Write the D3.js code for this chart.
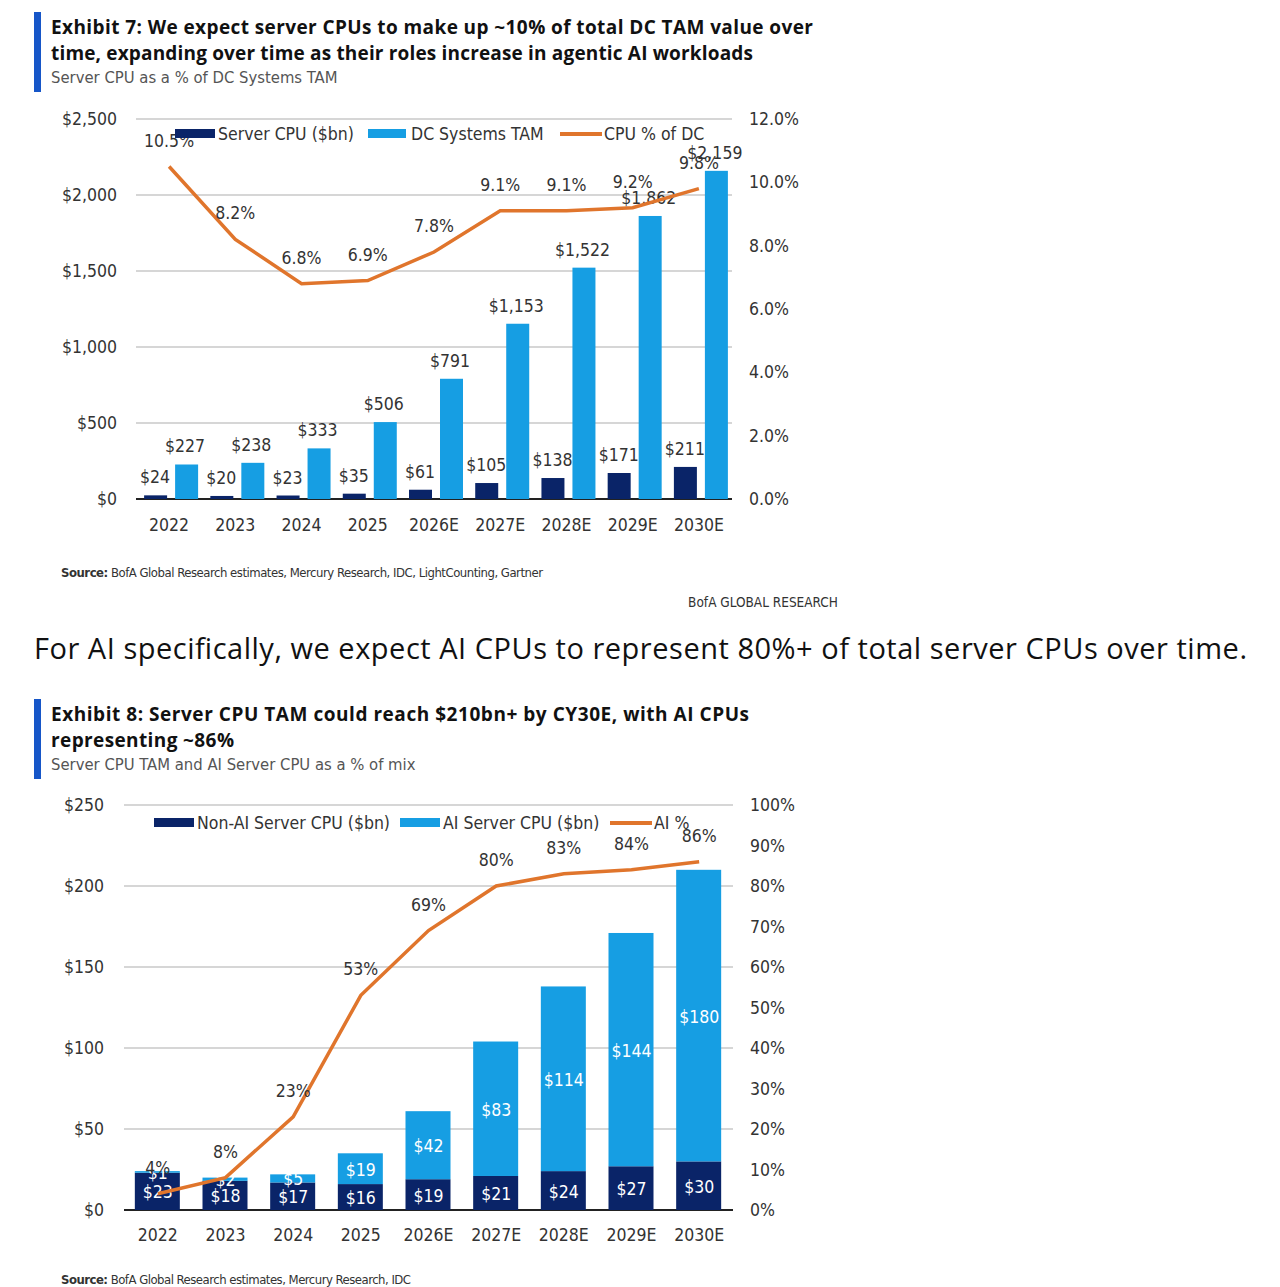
<!DOCTYPE html><html><head><meta charset="utf-8">
<script src="https://cdn.jsdelivr.net/npm/d3@7"></script>
<style>body{margin:0;background:#fff}svg{display:block}</style></head><body>
<script>
const years=["2022","2023","2024","2025","2026E","2027E","2028E","2029E","2030E"];
const serverCPU=[24,20,23,35,61,105,138,171,211];
const dcTAM=[227,238,333,506,791,1153,1522,1862,2159];
const cpuPct=[10.5,8.2,6.8,6.9,7.8,9.1,9.1,9.2,9.8];
const nonAI=[23,18,17,16,19,21,24,27,30];
const aiCPU=[1,2,5,19,42,83,114,144,180];
const aiPct=[4,8,23,53,69,80,83,84,86];
const leftTicks1=[0,500,1000,1500,2000,2500];
const rightTicks1=[0,2,4,6,8,10,12];
const leftTicks2=[0,50,100,150,200,250];
const rightTicks2=[0,10,20,30,40,50,60,70,80,90,100];

const DARK="#0a2468",LIGHT="#169ee3",ORANGE="#e0752c",GRID="#c8c8c8",TXT="#333";
const NF="'Liberation Sans Narrow','DejaVu Sans Condensed','Roboto',sans-serif";
const BF="'Open Sans','DejaVu Sans',sans-serif";
const svg=d3.select("body").append("svg").attr("width",1280).attr("height",1287);

function header(y,l1,w1,l2,w2,sub){
  svg.append("rect").attr("x",34).attr("y",y).attr("width",7).attr("height",80).attr("fill","#1656c8");
  svg.append("text").attr("x",51).attr("y",y+22).attr("font-family",BF).attr("font-weight",700).attr("font-size",19).attr("fill","#111").attr("textLength",w1).text(l1);
  svg.append("text").attr("x",51).attr("y",y+48).attr("font-family",BF).attr("font-weight",700).attr("font-size",19).attr("fill","#111").attr("textLength",w2).text(l2);
  svg.append("text").attr("x",51).attr("y",y+71).attr("font-family",NF).attr("font-size",16.5).attr("fill","#555").text(sub);
}
function t(x,y,s,opt={}){return svg.append("text").attr("x",x).attr("y",y).attr("font-family",NF).attr("font-size",opt.size||17.5).attr("fill",opt.fill||TXT).attr("text-anchor",opt.anchor||"middle").text(s);}

// Chart 1
header(12,"Exhibit 7: We expect server CPUs to make up ~10% of total DC TAM value over",762,"time, expanding over time as their roles increase in agentic AI workloads",702,"Server CPU as a % of DC Systems TAM");
const x1=d3.scaleBand().domain(years).range([136,732]).padding(0);
const y1=d3.scaleLinear().domain([0,2500]).range([499,119]);
const r1=d3.scaleLinear().domain([0,12]).range([499,119]);
leftTicks1.forEach(v=>{
  svg.append("line").attr("x1",136).attr("x2",732).attr("y1",y1(v)).attr("y2",y1(v)).attr("stroke",v?GRID:"#222").attr("stroke-width",v?1.5:2);
  t(117,y1(v)+6,"$"+d3.format(",")(v),{anchor:"end"});
});
rightTicks1.forEach(v=>t(749,r1(v)+6,v.toFixed(1)+"%",{anchor:"start"}));
years.forEach((yr,i)=>{
  const c=x1(yr)+x1.bandwidth()/2;
  t(c,531,yr);
  svg.append("rect").attr("x",c-25).attr("y",y1(serverCPU[i])).attr("width",23).attr("height",499-y1(serverCPU[i])).attr("fill",DARK);
  svg.append("rect").attr("x",c+6).attr("y",y1(dcTAM[i])).attr("width",23).attr("height",499-y1(dcTAM[i])).attr("fill",LIGHT);
  t(c-14,y1(serverCPU[i])-12,"$"+serverCPU[i]);
  t(c+16,y1(dcTAM[i])-12,"$"+d3.format(",")(dcTAM[i]));
});
svg.append("path").datum(cpuPct).attr("fill","none").attr("stroke",ORANGE).attr("stroke-width",3.5)
  .attr("d",d3.line().x((d,i)=>x1(years[i])+x1.bandwidth()/2).y(d=>r1(d)));
cpuPct.forEach((d,i)=>t(x1(years[i])+x1.bandwidth()/2,r1(d)-20,d.toFixed(1)+"%"));
svg.append("rect").attr("x",175).attr("y",129).attr("width",40).attr("height",9).attr("fill",DARK);
t(218,140,"Server CPU ($bn)",{anchor:"start"});
svg.append("rect").attr("x",368).attr("y",129).attr("width",38).attr("height",9).attr("fill",LIGHT);
t(411,140,"DC Systems TAM",{anchor:"start"});
svg.append("line").attr("x1",560).attr("x2",602).attr("y1",134).attr("y2",134).attr("stroke",ORANGE).attr("stroke-width",4);
t(604,140,"CPU % of DC",{anchor:"start"});
svg.append("text").attr("x",61).attr("y",577).attr("font-family",NF).attr("font-size",13).attr("fill","#333").attr("textLength",482)
  .html('<tspan font-weight="700">Source:</tspan> BofA Global Research estimates, Mercury Research, IDC, LightCounting, Gartner');
t(838,607,"BofA GLOBAL RESEARCH",{anchor:"end",size:13.5});
svg.append("text").attr("x",34).attr("y",659).attr("font-family","'Open Sans',sans-serif").attr("font-size",29).attr("fill","#111").attr("textLength",1213)
  .text("For AI specifically, we expect AI CPUs to represent 80%+ of total server CPUs over time.");

// Chart 2
header(699,"Exhibit 8: Server CPU TAM could reach $210bn+ by CY30E, with AI CPUs",698,"representing ~86%",183,"Server CPU TAM and AI Server CPU as a % of mix");
const x2=d3.scaleBand().domain(years).range([124,733]).padding(0);
const y2=d3.scaleLinear().domain([0,250]).range([1210,805]);
const r2=d3.scaleLinear().domain([0,100]).range([1210,805]);
leftTicks2.forEach(v=>{
  svg.append("line").attr("x1",124).attr("x2",733).attr("y1",y2(v)).attr("y2",y2(v)).attr("stroke",v?GRID:"#222").attr("stroke-width",v?1.5:2);
  t(104,y2(v)+6,"$"+v,{anchor:"end"});
});
rightTicks2.forEach(v=>t(750,r2(v)+6,v+"%",{anchor:"start"}));
years.forEach((yr,i)=>{
  const c=x2(yr)+x2.bandwidth()/2;
  t(c,1241,yr);
  svg.append("rect").attr("x",c-23).attr("y",y2(nonAI[i])).attr("width",45).attr("height",1210-y2(nonAI[i])).attr("fill",DARK);
  svg.append("rect").attr("x",c-23).attr("y",y2(nonAI[i]+aiCPU[i])).attr("width",45).attr("height",y2(nonAI[i])-y2(nonAI[i]+aiCPU[i])).attr("fill",LIGHT);
  t(c,(y2(nonAI[i])+1210)/2+7,"$"+nonAI[i],{fill:"#fff"});
  t(c,(y2(nonAI[i])+y2(nonAI[i]+aiCPU[i]))/2+7,"$"+aiCPU[i],{fill:"#fff"});
});
svg.append("path").datum(aiPct).attr("fill","none").attr("stroke",ORANGE).attr("stroke-width",3.5)
  .attr("d",d3.line().x((d,i)=>x2(years[i])+x2.bandwidth()/2).y(d=>r2(d)));
aiPct.forEach((d,i)=>t(x2(years[i])+x2.bandwidth()/2,r2(d)-20,d+"%"));
svg.append("rect").attr("x",154).attr("y",818).attr("width",40).attr("height",9).attr("fill",DARK);
t(197,829,"Non-AI Server CPU ($bn)",{anchor:"start"});
svg.append("rect").attr("x",400).attr("y",818).attr("width",40).attr("height",9).attr("fill",LIGHT);
t(443,829,"AI Server CPU ($bn)",{anchor:"start"});
svg.append("line").attr("x1",610).attr("x2",652).attr("y1",823).attr("y2",823).attr("stroke",ORANGE).attr("stroke-width",4);
t(654,829,"AI %",{anchor:"start"});
svg.append("text").attr("x",61).attr("y",1284).attr("font-family",NF).attr("font-size",13).attr("fill","#333").attr("textLength",350)
  .html('<tspan font-weight="700">Source:</tspan> BofA Global Research estimates, Mercury Research, IDC');
</script></body></html>
